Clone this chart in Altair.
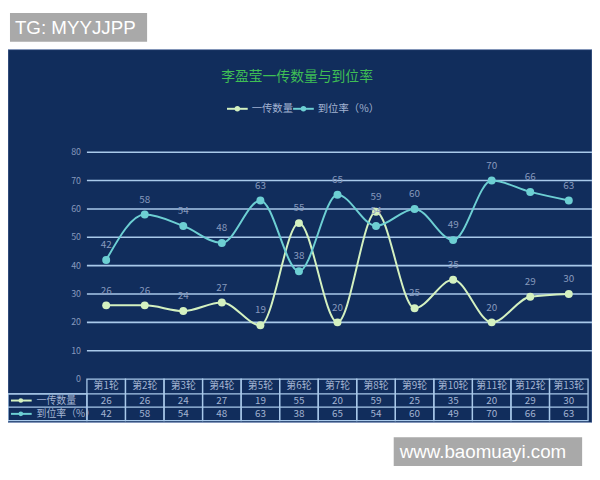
import altair as alt
import pandas as pd

# ---------------- data ----------------
rounds = ["第1轮", "第2轮", "第3轮", "第4轮", "第5轮", "第6轮", "第7轮",
          "第8轮", "第9轮", "第10轮", "第11轮", "第12轮", "第13轮"]
series_names = ["一传数量", "到位率（%）"]
pass_count = [26, 26, 24, 27, 19, 55, 20, 59, 25, 35, 20, 29, 30]
pass_rate = [42, 58, 54, 48, 63, 38, 65, 54, 60, 49, 70, 66, 63]
y_ticks = [0, 10, 20, 30, 40, 50, 60, 70, 80]
title_text = "李盈莹一传数量与到位率"
watermark_top = "TG: MYYJJPP"
watermark_bottom = "www.baomuayi.com"

# ---------------- styling ----------------
W, H = 508, 230
PANEL = "#112d5c"
GRID = "#a9c9ea"
LABEL = "#8799bd"
TABLE_TXT = "#a3b4d2"
C1 = "#d4f1c0"
C2 = "#6dcfd3"
TITLE_C = "#3fbf55"
FONT = "Noto Sans CJK SC"

long_rows = []
for i, r in enumerate(rounds):
    long_rows.append({"idx": i + 1, "round": r, "series": series_names[0], "value": pass_count[i]})
    long_rows.append({"idx": i + 1, "round": r, "series": series_names[1], "value": pass_rate[i]})
long_df = pd.DataFrame(long_rows)
round_df = pd.DataFrame({"idx": list(range(1, len(rounds) + 1)), "round": rounds,
                         "c": pass_count, "r": pass_rate})
tick_df = pd.DataFrame({"value": y_ticks})
one = pd.DataFrame({"k": [0]})

xs = alt.Scale(domain=[0.5, len(rounds) + 0.5], nice=False, zero=False)
ys = alt.Scale(domain=[0, 80], nice=False)
X = alt.X("idx:Q", scale=xs, axis=None)
Y = alt.Y("value:Q", scale=ys, axis=None)
color = alt.Color("series:N", scale=alt.Scale(domain=series_names, range=[C1, C2]), legend=None)

layers = []

# panel background
layers.append(alt.Chart(one).mark_rect(fill=PANEL, stroke="#7f96c2", strokeWidth=1, strokeOpacity=0.6).encode(
    x=alt.value(-80), x2=alt.value(W + 4), y=alt.value(-104), y2=alt.value(274)))

# gridlines
layers.append(alt.Chart(tick_df).transform_filter("datum.value > 0").mark_rule(
    color=GRID, strokeWidth=1.6).encode(x=alt.value(0), x2=alt.value(W + 4), y=Y))
# axis labels
layers.append(alt.Chart(tick_df).mark_text(align="right", baseline="middle", font=FONT,
                                           fontSize=9, color=LABEL).encode(
    x=alt.value(-6), y=Y, text="value:Q"))

# lines
layers.append(alt.Chart(long_df).mark_line(interpolate="monotone", strokeWidth=2).encode(
    x=X, y=Y, color=color, detail="series:N"))
layers.append(alt.Chart(long_df).mark_point(filled=True, size=65, opacity=1).encode(
    x=X, y=Y, color=color))
layers.append(alt.Chart(long_df).mark_text(dy=-15, font=FONT, fontSize=10, color=LABEL).encode(
    x=X, y=Y, text="value:Q"))

# table
TOP, R1, R2, BOT = H, 245, 258.5, 272
layers.append(alt.Chart(round_df).transform_calculate(
    x0="datum.idx - 0.5", x1="datum.idx + 0.5").mark_rect(
    fillOpacity=0, stroke=GRID, strokeWidth=1.3).encode(
    x=alt.X("x0:Q", scale=xs, axis=None), x2="x1:Q", y=alt.value(TOP), y2=alt.value(BOT)))
for yy in [R1, R2]:
    layers.append(alt.Chart(one).mark_rule(color=GRID, strokeWidth=1.3).encode(
        x=alt.value(-80), x2=alt.value(W), y=alt.value(yy)))
layers.append(alt.Chart(one).mark_rect(fillOpacity=0, stroke=GRID, strokeWidth=1.3).encode(
    x=alt.value(-80), x2=alt.value(0), y=alt.value(R1), y2=alt.value(BOT)))
layers.append(alt.Chart(round_df).mark_text(font=FONT, fontSize=10, color=TABLE_TXT, baseline="middle").encode(
    x=X, y=alt.value((TOP + R1) / 2), text="round:N"))
layers.append(alt.Chart(round_df).mark_text(font=FONT, fontSize=10, color=TABLE_TXT, baseline="middle").encode(
    x=X, y=alt.value((R1 + R2) / 2), text="c:Q"))
layers.append(alt.Chart(round_df).mark_text(font=FONT, fontSize=10, color=TABLE_TXT, baseline="middle").encode(
    x=X, y=alt.value((R2 + BOT) / 2), text="r:Q"))

# row labels in table
for name, col, yy in [(series_names[0], C1, (R1 + R2) / 2), (series_names[1], C2, (R2 + BOT) / 2)]:
    layers.append(alt.Chart(one).mark_rule(color=col, strokeWidth=2).encode(
        x=alt.value(-77), x2=alt.value(-56), y=alt.value(yy)))
    layers.append(alt.Chart(one).mark_point(filled=True, size=22, opacity=1, color=col).encode(
        x=alt.value(-67), y=alt.value(yy)))
    layers.append(alt.Chart(one).mark_text(align="left", baseline="middle", font=FONT, fontSize=10,
                                           color=TABLE_TXT).encode(
        x=alt.value(-51), y=alt.value(yy), text=alt.value(name)))

# legend
LY = -44
for name, col, x0 in [(series_names[0], C1, 142), (series_names[1], C2, 209)]:
    layers.append(alt.Chart(one).mark_rule(color=col, strokeWidth=2).encode(
        x=alt.value(x0), x2=alt.value(x0 + 21), y=alt.value(LY)))
    layers.append(alt.Chart(one).mark_point(filled=True, size=30, opacity=1, color=col).encode(
        x=alt.value(x0 + 10.5), y=alt.value(LY)))
    layers.append(alt.Chart(one).mark_text(align="left", baseline="middle", font=FONT, fontSize=10.5,
                                           color=TABLE_TXT).encode(
        x=alt.value(x0 + 25), y=alt.value(LY), text=alt.value(name)))

# title
layers.append(alt.Chart(one).mark_text(align="center", baseline="middle", font=FONT, fontSize=14,
                                       color=TITLE_C).encode(
    x=alt.value(213), y=alt.value(-76), text=alt.value(title_text)))

# watermarks
layers.append(alt.Chart(one).mark_rect(fill="#a9a9a9").encode(
    x=alt.value(-78), x2=alt.value(61), y=alt.value(-141), y2=alt.value(-112)))
layers.append(alt.Chart(one).mark_text(align="left", baseline="middle", font="Liberation Sans",
                                       fontSize=19, color="white").encode(
    x=alt.value(-73), y=alt.value(-126), text=alt.value(watermark_top)))
layers.append(alt.Chart(one).mark_rect(fill="#a9a9a9").encode(
    x=alt.value(311), x2=alt.value(502), y=alt.value(289), y2=alt.value(318)))
layers.append(alt.Chart(one).mark_text(align="left", baseline="middle", font="Liberation Sans",
                                       fontSize=19, color="white").encode(
    x=alt.value(317), y=alt.value(304), text=alt.value(watermark_bottom)))

chart = alt.layer(*layers).properties(
    width=W, height=H,
    autosize=alt.AutoSizeParams(type="none"),
    padding={"left": 80, "top": 143, "right": 4, "bottom": 91},
    background="white",
).configure_view(stroke=None)

chart.save("out.html", embed_options={"renderer": "svg", "actions": False})
